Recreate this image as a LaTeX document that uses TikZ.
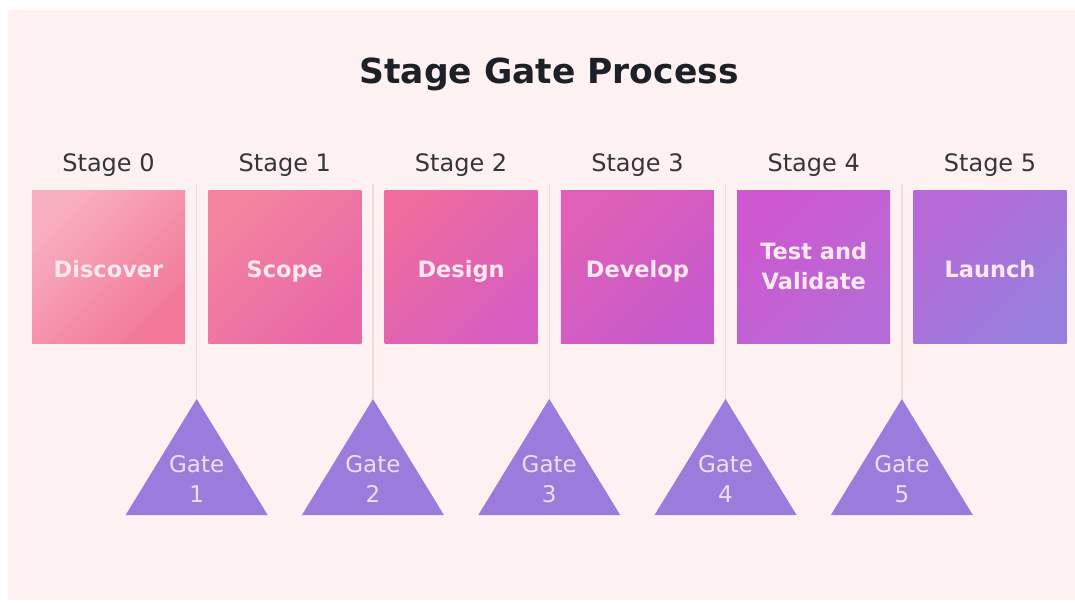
\documentclass[tikz,border=0pt]{standalone}
\usepackage{fontspec}
\setmainfont{DejaVu Sans}

% palette
\definecolor{pagebg}{HTML}{FDF1F1}
\definecolor{titleink}{HTML}{1D2026}
\definecolor{labelink}{HTML}{35353B}
\definecolor{boxink}{HTML}{FDE8F0}
\definecolor{gatefill}{HTML}{9B7BDB}
\definecolor{gateink}{HTML}{ECE0F8}
\definecolor{linkline}{HTML}{F3DADA}
% stage box gradients: top-left / bottom-right
\definecolor{boxAa}{HTML}{F8B0BF}\definecolor{boxAb}{HTML}{F27799}
\definecolor{boxBa}{HTML}{F4849E}\definecolor{boxBb}{HTML}{E867A8}
\definecolor{boxCa}{HTML}{EE6C9E}\definecolor{boxCb}{HTML}{D65DC1}
\definecolor{boxDa}{HTML}{DF60B6}\definecolor{boxDb}{HTML}{C659CD}
\definecolor{boxEa}{HTML}{CF57CF}\definecolor{boxEb}{HTML}{B56BD7}
\definecolor{boxFa}{HTML}{B769D8}\definecolor{boxFb}{HTML}{967FDC}

\begin{document}
\begin{tikzpicture}[x=1pt,y=-1pt,
  titletext/.style={font=\fontsize{34.5}{40}\selectfont\bfseries, text=titleink, inner sep=0pt},
  stagelabel/.style={font=\fontsize{24}{28}\selectfont, text=labelink, inner sep=0pt},
  stagebox/.style={minimum width=153pt, minimum height=153pt, inner sep=0pt},
  boxtext/.style={align=center, text=boxink, inner sep=0pt,
    font=\fontsize{22.5}{30}\selectfont\bfseries},
  gatetext/.style={font=\fontsize{23}{30}\selectfont, text=gateink, align=center, inner sep=0pt},
  gateshape/.style={fill=gatefill},
  gatelink/.style={draw=linkline, line width=1.5pt}
]
\useasboundingbox (0,0) rectangle (1075,603);
\fill[pagebg] (8,10) rectangle (1075,600);

% heading
\node[titletext, anchor=base] (title) at (549,83) {Stage Gate Process};

% gate links and triangles (drawn first so boxes sit on top)
\foreach \g/\gx in {1/196.65, 2/372.95, 3/549.25, 4/725.55, 5/901.85} {
  \coordinate (top\g) at (\gx,184);
  \coordinate (apex\g) at (\gx,399);
  \draw[gatelink] (top\g) -- (apex\g);
  \fill[gateshape] (apex\g) -- ++(-71,116) -- ++(142,0) -- cycle;
  \node[gatetext] (gate\g) at (\gx,479) {Gate\\\g};
}

% stage boxes with their headings
\foreach \s/\sx/\ca/\cb in {
    0/108.5/boxAa/boxAb,
    1/284.8/boxBa/boxBb,
    2/461.1/boxCa/boxCb,
    3/637.4/boxDa/boxDb,
    4/813.7/boxEa/boxEb,
    5/990.0/boxFa/boxFb} {
  \node[stagebox, top color=\ca, bottom color=\cb, shading angle=45]
    (stage\s) at (\sx,266.5) {};
  \node[stagelabel, anchor=base] (label\s) at (\sx,171.7) {Stage \s};
}

% stage names
\node[boxtext, anchor=base] (name0) at ([yshift=-10.5pt]stage0.center) {Discover};
\node[boxtext, anchor=base] (name1) at ([yshift=-10.5pt]stage1.center) {Scope};
\node[boxtext, anchor=base] (name2) at ([yshift=-10.5pt]stage2.center) {Design};
\node[boxtext, anchor=base] (name3) at ([yshift=-10.5pt]stage3.center) {Develop};
\node[boxtext] (name4) at (stage4.center) {Test and\\Validate};
\node[boxtext, anchor=base] (name5) at ([yshift=-10.5pt]stage5.center) {Launch};
\end{tikzpicture}
\end{document}
